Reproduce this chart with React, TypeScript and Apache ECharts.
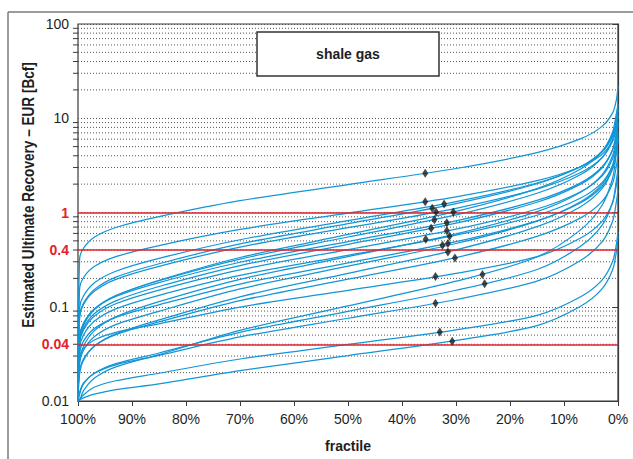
import React, { useEffect, useRef } from "react";
import * as echarts from "echarts";

// fractile (% exceedance) at which each curve value was read
const FRACTILES = [100, 99.7, 99, 97, 93, 85, 70, 50, 30, 15, 7, 3, 1, 0.3, 0];

// EUR [Bcf] read for each curve at the fractiles above
const CURVE_01 = [0.01, 0.323, 0.415, 0.545, 0.693, 0.904, 1.334, 1.977, 2.93, 4.32, 6.03, 8.15, 11.4, 15.7, 22];
const CURVE_02 = [0.01, 0.157, 0.203, 0.267, 0.34, 0.446, 0.661, 0.984, 1.466, 2.173, 3.04, 4.12, 5.81, 8.0, 10.5];
const CURVE_03 = [0.01, 0.0968, 0.13, 0.179, 0.238, 0.326, 0.514, 0.818, 1.303, 2.056, 3.04, 4.34, 6.46, 9.38, 12.3];
const CURVE_04 = [0.01, 0.0793, 0.1086, 0.152, 0.206, 0.286, 0.465, 0.76, 1.245, 2.018, 3.055, 4.446, 6.79, 10.07, 13.3];
const CURVE_05 = [0.01, 0.0776, 0.1054, 0.1459, 0.1954, 0.2685, 0.4295, 0.69, 1.109, 1.774, 2.642, 3.802, 5.715, 8.375, 11.0];
const CURVE_06 = [0.01, 0.0439, 0.063, 0.0927, 0.131, 0.191, 0.333, 0.585, 1.028, 1.791, 2.871, 4.416, 7.161, 11.25, 14.1];
const CURVE_07 = [0.01, 0.0463, 0.0655, 0.0946, 0.1315, 0.1888, 0.3206, 0.5495, 0.9419, 1.6, 2.512, 3.784, 6.01, 9.27, 12.3];
const CURVE_08 = [0.01, 0.0482, 0.0667, 0.0944, 0.1285, 0.1803, 0.2965, 0.492, 0.817, 1.343, 2.051, 3.02, 4.656, 6.982, 9.12];
const CURVE_09 = [0.01, 0.0424, 0.059, 0.0843, 0.1156, 0.164, 0.2735, 0.459, 0.771, 1.285, 1.986, 2.951, 4.613, 7.0, 8.7];
const CURVE_10 = [0.01, 0.041, 0.0564, 0.0794, 0.1076, 0.1503, 0.246, 0.4046, 0.665, 1.089, 1.652, 2.415, 3.707, 5.534, 7.24];
const CURVE_11 = [0.01, 0.0364, 0.05, 0.0701, 0.0948, 0.1321, 0.2148, 0.3516, 0.5754, 0.9354, 1.416, 2.065, 3.155, 4.688, 6.17];
const CURVE_12 = [0.01, 0.0265, 0.0379, 0.0555, 0.078, 0.1132, 0.1954, 0.3404, 0.593, 1.023, 1.633, 2.495, 4.018, 6.266, 8.3];
const CURVE_13 = [0.01, 0.0321, 0.0429, 0.0586, 0.0773, 0.1047, 0.1742, 0.2924, 0.4909, 0.8166, 1.262, 1.875, 2.924, 4.426, 5.9];
const CURVE_14 = [0.01, 0.0252, 0.0344, 0.048, 0.0646, 0.0895, 0.1545, 0.2692, 0.4688, 0.8091, 1.291, 1.972, 3.177, 4.955, 6.8];
const CURVE_15 = [0.01, 0.0195, 0.0269, 0.038, 0.0516, 0.0724, 0.1276, 0.2265, 0.4018, 0.7079, 1.146, 1.778, 2.911, 4.613, 6.3];
const CURVE_16 = [0.01, 0.0207, 0.0278, 0.0382, 0.0506, 0.069, 0.1159, 0.1963, 0.3327, 0.5585, 0.871, 1.303, 2.046, 3.126, 4.17];
const CURVE_17 = [0.01, 0.0294, 0.0359, 0.0444, 0.0536, 0.0659, 0.0991, 0.1496, 0.2259, 0.3396, 0.5321, 0.8017, 1.271, 1.954, 2.63];
const CURVE_18 = [0.01, 0.0102, 0.0128, 0.0174, 0.023, 0.031, 0.0561, 0.1023, 0.1866, 0.3373, 0.6501, 1.18, 2.307, 4.315, 5.75];
const CURVE_19 = [0.01, 0.0118, 0.0151, 0.0197, 0.0249, 0.0323, 0.0536, 0.0895, 0.1496, 0.2483, 0.4355, 0.7244, 1.285, 2.198, 2.95];
const CURVE_20 = [0.01, 0.01245, 0.0155, 0.0196, 0.0242, 0.0305, 0.0478, 0.0755, 0.1194, 0.1871, 0.3083, 0.4853, 0.8091, 1.303, 1.74];
const CURVE_21 = [0.01, 0.0104, 0.0116, 0.014, 0.0164, 0.0197, 0.0279, 0.0399, 0.057, 0.0809, 0.1268, 0.1905, 0.3013, 0.4613, 0.631];
const CURVE_22 = [0.01, 0.0103, 0.0108, 0.0118, 0.0132, 0.0152, 0.021, 0.0303, 0.0439, 0.0631, 0.1005, 0.1535, 0.2466, 0.3846, 0.562];

const CURVES = [
  CURVE_01, CURVE_02, CURVE_03, CURVE_04, CURVE_05, CURVE_06, CURVE_07, CURVE_08,
  CURVE_09, CURVE_10, CURVE_11, CURVE_12, CURVE_13, CURVE_14, CURVE_15, CURVE_16,
  CURVE_17, CURVE_18, CURVE_19, CURVE_20, CURVE_21, CURVE_22,
];

// diamonds: fractile % and EUR
const MEAN_FRACTILE = [35.7, 35.7, 32.2, 34.4, 33.7, 30.5, 34.0, 31.7, 34.6, 31.7, 31.2, 35.6, 31.5, 32.5, 31.5, 30.2, 33.8, 25.1, 24.7, 33.8, 33.0, 30.7];
const MEAN_VALUE = [2.61, 1.3, 1.23, 1.11, 1.01, 1.01, 0.84, 0.78, 0.68, 0.64, 0.56, 0.52, 0.47, 0.45, 0.38, 0.33, 0.21, 0.22, 0.175, 0.109, 0.054, 0.043];

// red reference levels
const RED_LEVELS = [1, 0.4, 0.04];
const RED_LABELS = ["1", "0.4", "0.04"];

// log grid structure
const DECADES = [0.01, 0.1, 1, 10];
const MINOR_MULT = [2, 3, 4, 5, 6, 7, 8, 9];

const TITLE = "shale gas";
const Y_NAME = "Estimated Ultimate Recovery \u2013 EUR [Bcf]";
const X_NAME = "fractile";

const FONT = "'Liberation Sans', Arial, sans-serif";
const BLUE = "#1296d6";
const RED = "#e3222a";
const AXIS = "#3a3a3a";
const TEXT = "#1e1e1e";

export default function App() {
  const ref = useRef<HTMLDivElement>(null);

  useEffect(() => {
    if (!ref.current) return;
    const chart = echarts.init(ref.current, null, { renderer: "svg" });

    const minorValues: number[] = [];
    DECADES.forEach((d) => MINOR_MULT.forEach((m) => minorValues.push(Number((d * m).toPrecision(3)))));

    const lineSeries = CURVES.map((c, i) => ({
      type: "line",
      name: "c" + (i + 1),
      data: c.map((v, j) => [FRACTILES[j], v]),
      showSymbol: false,
      symbol: "none",
      smooth: 0.3,
      lineStyle: { color: BLUE, width: 1.25 },
      z: 3,
      silent: true,
    }));

    const option: any = {
      animation: false,
      grid: {
        left: 78,
        right: 15,
        top: 24,
        bottom: 58,
        show: true,
        borderColor: AXIS,
        borderWidth: 1.2,
        backgroundColor: "transparent",
      },
      xAxis: {
        type: "value",
        inverse: true,
        min: 0,
        max: 100,
        interval: 10,
        name: X_NAME,
        nameLocation: "middle",
        nameGap: 38,
        nameTextStyle: { fontFamily: FONT, fontSize: 14, fontWeight: "bold", color: TEXT },
        axisLine: { show: true, lineStyle: { color: AXIS, width: 1.2 } },
        axisTick: { show: true, length: 5, lineStyle: { color: AXIS } },
        axisLabel: {
          margin: 11,
          fontFamily: FONT,
          fontSize: 14,
          color: TEXT,
          formatter: (v: number) => v + "%",
        },
        splitLine: { show: false },
      },
      yAxis: {
        type: "log",
        logBase: 10,
        min: 0.01,
        max: 100,
        axisLine: { show: true, lineStyle: { color: AXIS, width: 1.2 } },
        axisTick: { show: true, length: 5, lineStyle: { color: AXIS } },
        axisLabel: {
          margin: 9,
          fontFamily: FONT,
          fontSize: 14,
          color: TEXT,
          formatter: (v: number) => {
            const r = Number(Number(v).toPrecision(3));
            return r === 1 ? "" : String(r);
          },
        },
        splitLine: { show: true, lineStyle: { color: "#555", width: 1, type: [1, 2] } },
      },
      graphic: [
        { type: "line", shape: { x1: 8, y1: 12, x2: 633, y2: 12 }, style: { stroke: "#7a7a7a", lineWidth: 1.5 }, silent: true },
        { type: "line", shape: { x1: 8, y1: 12, x2: 8, y2: 459 }, style: { stroke: "#7a7a7a", lineWidth: 1.5 }, silent: true },
        {
          type: "rect",
          shape: { x: 257, y: 32, width: 182, height: 44 },
          style: { fill: "#fff", stroke: "#333", lineWidth: 1.5 },
          z: 100,
        },
        {
          type: "text",
          x: 348,
          y: 54,
          z: 101,
          style: {
            text: TITLE,
            fontFamily: FONT,
            fontSize: 14,
            fontWeight: "bold",
            fill: TEXT,
            align: "center",
            verticalAlign: "middle",
          },
        },
        {
          type: "text",
          x: 29,
          y: 195,
          rotation: Math.PI / 2,
          scaleX: 0.85,
          style: {
            text: Y_NAME,
            fontFamily: FONT,
            fontSize: 16,
            fontWeight: "bold",
            fill: TEXT,
            align: "center",
            verticalAlign: "middle",
          },
        },
      ],
      series: [
        {
          type: "custom",
          coordinateSystem: "cartesian2d",
          data: minorValues.map((v) => [50, v]),
          clip: false,
          silent: true,
          z: 1,
          renderItem: (_params: any, api: any) => {
            const v = api.value(1);
            const a = api.coord([100, v]);
            const b = api.coord([0, v]);
            return {
              type: "group",
              children: [
                { type: "line", shape: { x1: a[0] - 5, y1: a[1], x2: a[0], y2: a[1] }, style: { stroke: AXIS, lineWidth: 1 } },
                { type: "line", shape: { x1: a[0], y1: a[1], x2: b[0], y2: b[1] }, style: { stroke: "#555", lineWidth: 1, lineDash: [1, 2] } },
              ],
            };
          },
        },
        ...lineSeries,
        {
          type: "scatter",
          data: MEAN_FRACTILE.map((f, i) => [f, MEAN_VALUE[i]]),
          symbol: "diamond",
          symbolSize: [6, 9],
          itemStyle: { color: "#1a1a1a" },
          z: 6,
          silent: true,
          markLine: {
            silent: true,
            symbol: ["none", "none"],
            lineStyle: { color: RED, width: 1.6, type: "solid" },
            label: {
              show: true,
              position: "end",
              distance: 9,
              color: RED,
              fontFamily: FONT,
              fontSize: 14,
              fontWeight: "bold",
            },
            data: RED_LEVELS.map((v, i) => ({ yAxis: v, label: { formatter: RED_LABELS[i] } })),
          },
        },
      ],
    };

    chart.setOption(option);
    return () => chart.dispose();
  }, []);

  return (
    <div
      ref={ref}
      style={{ position: "fixed", left: 0, top: 0, width: 633, height: 459, background: "#fff" }}
    />
  );
}
